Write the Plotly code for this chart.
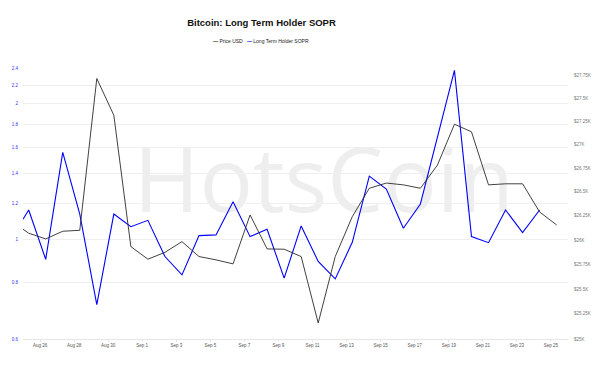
import math
import plotly.graph_objects as go

# ---------------- data ----------------
dates = [
    "2023-08-25 00:00", "2023-08-25 08:00", "2023-08-26 08:00", "2023-08-27 08:00",
    "2023-08-28 08:00", "2023-08-29 08:00", "2023-08-30 08:00", "2023-08-31 08:00",
    "2023-09-01 08:00", "2023-09-02 08:00", "2023-09-03 08:00", "2023-09-04 08:00",
    "2023-09-05 08:00", "2023-09-06 08:00", "2023-09-07 08:00", "2023-09-08 08:00",
    "2023-09-09 08:00", "2023-09-10 08:00", "2023-09-11 08:00", "2023-09-12 08:00",
    "2023-09-13 08:00", "2023-09-14 08:00", "2023-09-15 08:00", "2023-09-16 08:00",
    "2023-09-17 08:00", "2023-09-18 08:00", "2023-09-19 08:00", "2023-09-20 08:00",
    "2023-09-21 08:00", "2023-09-22 08:00", "2023-09-23 08:00", "2023-09-24 08:00",
    "2023-09-25 08:00",
]

price_usd = [
    26111, 26070, 26011, 26090, 26100, 27717, 27317, 25932,
    25803, 25873, 25983, 25830, 25796, 25755, 26259, 25908,
    25905, 25830, 25159, 25830, 26241, 26538, 26593, 26574,
    26538, 26783, 27220, 27138, 26574, 26585, 26585, 26290,
    26155,
]

lth_sopr = [
    1.107, 1.161, 0.902, 1.558, 1.137, 0.715, 1.137, 1.066,
    1.101, 0.915, 0.833, 1.018, 1.022, 1.211, 1.013, 1.052,
    0.819, 1.070, 0.892, 0.816, 0.984, 1.380, 1.292, 1.057,
    1.197, 1.691, 2.371, 1.013, 0.982, 1.161, 1.034, 1.161,
    None,
]

x_tick_vals = [
    "2023-08-26", "2023-08-28", "2023-08-30", "2023-09-01", "2023-09-03",
    "2023-09-05", "2023-09-07", "2023-09-09", "2023-09-11", "2023-09-13",
    "2023-09-15", "2023-09-17", "2023-09-19", "2023-09-21", "2023-09-23",
    "2023-09-25",
]
x_tick_text = [
    "Aug 26", "Aug 28", "Aug 30", "Sep 1", "Sep 3", "Sep 5", "Sep 7", "Sep 9",
    "Sep 11", "Sep 13", "Sep 15", "Sep 17", "Sep 19", "Sep 21", "Sep 23", "Sep 25",
]

sopr_tick_vals = [0.6, 0.8, 1, 1.2, 1.4, 1.6, 1.8, 2, 2.2, 2.4]
sopr_tick_text = ["0.6", "0.8", "1", "1.2", "1.4", "1.6", "1.8", "2", "2.2", "2.4"]

price_tick_vals = [25000, 25250, 25500, 25750, 26000, 26250, 26500, 26750,
                   27000, 27250, 27500, 27750]
price_tick_text = ["$25K", "$25.25K", "$25.5K", "$25.75K", "$26K", "$26.25K",
                   "$26.5K", "$26.75K", "$27K", "$27.25K", "$27.5K", "$27.75K"]

sopr_range = [0.6, 2.4]
price_range = [25000, 27833]
x_range = ["2023-08-25 00:00", "2023-09-26 00:00"]

FONT = "Liberation Sans, Arial, sans-serif"
BLUE = "#0000ff"
BLACK = "#2b2b2b"

fig = go.Figure()

fig.add_trace(go.Scatter(
    x=dates, y=price_usd, name="Price USD", mode="lines",
    line=dict(color=BLACK, width=0.9), yaxis="y2", showlegend=False,
))
fig.add_trace(go.Scatter(
    x=dates, y=lth_sopr, name="Long Term Holder SOPR", mode="lines",
    line=dict(color=BLUE, width=1.1), yaxis="y", showlegend=False,
))

# reference line at SOPR = 1
fig.add_shape(type="line", xref="paper", x0=0, x1=1, yref="y",
              y0=math.log10(1), y1=math.log10(1),
              line=dict(color="#b0b0b0", width=0.8, dash="dot"), layer="below")

# watermark (drawn beneath the lines)
wm_x, wm_y = 0.552, 0.572
fig.add_shape(type="rect", xref="paper", yref="paper",
              x0=wm_x - 0.4, x1=wm_x + 0.4, y0=wm_y - 0.25, y1=wm_y + 0.25,
              line=dict(width=0), fillcolor="rgba(0,0,0,0)", layer="below",
              label=dict(text="HotsCoin", textposition="middle center",
                         font=dict(family="Open Sans, sans-serif", size=89,
                                   color="#eeeeee")))

# compact legend
fig.add_annotation(
    text=(f"<span style='color:{BLACK}'><b>—</b></span> Price USD"
          f"&nbsp;&nbsp;&nbsp;<span style='color:{BLUE}'><b>—</b></span> Long Term Holder SOPR"),
    xref="paper", yref="paper", xanchor="center", yanchor="middle",
    x=(261 - 23) / 545, y=(339.3 - 40.7) / 271.6, showarrow=False,
    font=dict(family=FONT, size=5, color="#222"),
)

fig.update_layout(
    width=592, height=370,
    margin=dict(l=15, r=32, t=60, b=39),
    paper_bgcolor="white", plot_bgcolor="white",
    font=dict(family=FONT),
    title=dict(text="<b>Bitcoin: Long Term Holder SOPR</b>",
               x=253.5 / 592, xanchor="center", xref="container",
               y=1 - 14.7 / 370, yanchor="middle", yref="container",
               font=dict(family=FONT, size=9.5, color="#111")),
    showlegend=False,
    xaxis=dict(
        type="date", range=x_range, automargin=False,
        tickvals=x_tick_vals, ticktext=x_tick_text,
        tickfont=dict(size=4.5, color="#555"),
        showgrid=False, zeroline=False,
        showline=True, linecolor="#e6e6e6", linewidth=1,
        ticks="outside", ticklen=2, tickcolor="#e6e6e6",
    ),
    yaxis=dict(
        type="log", range=[math.log10(v) for v in sopr_range], automargin=False,
        tickvals=sopr_tick_vals, ticktext=sopr_tick_text,
        tickfont=dict(size=4.5, color="#3333ff"),
        showgrid=True, gridcolor="#efefef", gridwidth=1,
        zeroline=False, showline=False, ticks="",
        ticklabelstandoff=4,
    ),
    yaxis2=dict(
        type="log", range=[math.log10(v) for v in price_range], automargin=False,
        overlaying="y", side="right",
        tickvals=price_tick_vals, ticktext=price_tick_text,
        tickfont=dict(size=4.5, color="#777"),
        showgrid=False, zeroline=False, showline=False, ticks="",
        ticklabelstandoff=5,
    ),
)

fig.write_html("out.html")
